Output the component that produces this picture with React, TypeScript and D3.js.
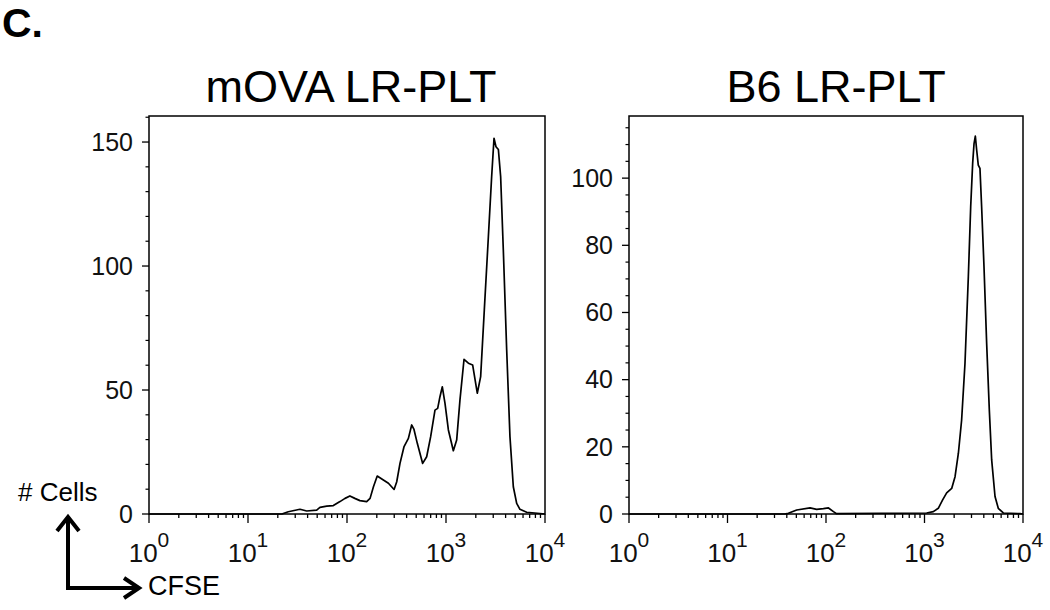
import React from 'react';
import * as d3 from 'd3';

// CFSE intensity (x) and # cells (y)
const movaCfse = [1, 22, 25.5, 33.5, 39.2, 49.4, 53.3, 62.4, 72.8, 84.9, 95.5, 107, 120, 135, 158, 171, 185, 202, 233, 262, 299, 318, 343, 377, 417, 450, 475, 513, 581, 638, 700, 774, 824, 869, 918, 977, 1057, 1186, 1282, 1384, 1521, 1683, 1858, 2070, 2239, 2438, 2679, 2891, 3055, 3199, 3381, 3565, 3793, 4102, 4426, 4786, 5176, 5585, 6531, 8892, 10000];
const movaCount = [0, 0, 0.9, 1.9, 1.2, 1.6, 2.7, 3.2, 3.4, 5.0, 6.3, 7.3, 6.3, 5.4, 5.0, 6.3, 11.0, 15.3, 13.7, 12.4, 9.9, 13.0, 20.4, 27.2, 30.5, 35.9, 34.1, 28.5, 20.4, 23.1, 31.2, 41.9, 42.6, 47.3, 51.3, 44.6, 33.9, 25.5, 29.8, 46.0, 62.4, 60.8, 60.1, 48.7, 55.4, 82.3, 111.8, 136.0, 151.5, 148.1, 147.0, 136.0, 106.5, 66.1, 31.2, 11.0, 4.3, 1.9, 0.7, 0.2, 0];

const b6Cfse = [1, 38, 41.5, 50.4, 68.9, 80.4, 94.0, 106, 119, 128, 1052, 1230, 1380, 1528, 1679, 1888, 2042, 2208, 2382, 2576, 2786, 2944, 3083, 3184, 3281, 3388, 3516, 3656, 3802, 4018, 4276, 4550, 4808, 5200, 5610, 6310, 9333, 10000];
const b6Count = [0, 0, 0.2, 1.2, 1.8, 1.4, 1.6, 1.8, 0.7, 0.1, 0.3, 0.7, 1.7, 4.2, 6.3, 7.6, 11.1, 18.1, 28.0, 44.8, 70.6, 91.5, 104.4, 110.3, 112.5, 108.3, 103.9, 102.9, 91.5, 73.6, 50.8, 31.0, 16.1, 5.2, 1.7, 0.3, 0.1, 0];

const panelTitles = ['mOVA LR-PLT', 'B6 LR-PLT'];
const movaYTicks = [0, 50, 100, 150];
const b6YTicks = [0, 20, 40, 60, 80, 100];
const decades = [0, 1, 2, 3, 4];

const FONT = '"Liberation Sans", Arial, Helvetica, sans-serif';
const TOP = 116;
const BOTTOM = 514;

type PanelProps = {
  title: string;
  left: number;
  right: number;
  yMax: number;
  yTicks: number[];
  minorStep: number;
  cfse: number[];
  count: number[];
  titleX: number;
};

const Panel = ({ title, left, right, yMax, yTicks, minorStep, cfse, count, titleX }: PanelProps) => {
  const x = d3.scaleLog().domain([1, 10000]).range([left, right]);
  const y = d3.scaleLinear().domain([0, yMax]).range([BOTTOM, TOP]);

  const line = d3.line<number>()
    .x(i => x(cfse[i]))
    .y(i => y(count[i]));
  const path = line(d3.range(cfse.length)) || '';

  const minorY = d3.range(0, yMax, minorStep).filter(v => !yTicks.includes(v));
  const xTicks = x.ticks();

  return (
    <g>
      <text x={titleX} y={102} textAnchor="middle" fontSize={45} fontFamily={FONT}>{title}</text>
      <rect x={left} y={TOP} width={right - left} height={BOTTOM - TOP}
        fill="none" stroke="#000" strokeWidth={1.5} />

      {/* y ticks */}
      {minorY.map(v => (
        <line key={'my' + v} x1={left - 3.5} x2={left} y1={y(v)} y2={y(v)} stroke="#000" strokeWidth={1.2} />
      ))}
      {yTicks.map(v => (
        <g key={'y' + v}>
          <line x1={left - 7} x2={left} y1={y(v)} y2={y(v)} stroke="#000" strokeWidth={1.3} />
          <text x={left - 16} y={y(v)} dy="0.35em" textAnchor="end" fontSize={25} fontFamily={FONT} fill="#111">{v}</text>
        </g>
      ))}

      {/* x ticks */}
      {xTicks.map((v, i) => {
        const major = Math.abs(Math.log10(v) - Math.round(Math.log10(v))) < 1e-9;
        return (
          <line key={'x' + i} x1={x(v)} x2={x(v)} y1={BOTTOM} y2={BOTTOM + (major ? 9 : 4)}
            stroke="#000" strokeWidth={1.3} />
        );
      })}
      {decades.map(p => (
        <text key={'xl' + p} x={x(Math.pow(10, p))} y={562} textAnchor="middle" fontFamily={FONT} fill="#111">
          <tspan fontSize={26}>10</tspan>
          <tspan fontSize={21} dy={-15}>{p}</tspan>
        </text>
      ))}

      <path d={path} fill="none" stroke="#000" strokeWidth={1.7} strokeLinejoin="round" />
    </g>
  );
};

export default function App() {
  return (
    <svg width={1050} height={610} style={{ position: 'absolute', left: 0, top: 0, background: '#fff' }}>
      <text x={2} y={37} fontSize={41} fontWeight="bold" fontFamily={FONT}>C.</text>

      <Panel title={panelTitles[0]} left={149} right={545} yMax={160.5} yTicks={movaYTicks}
        minorStep={10} cfse={movaCfse} count={movaCount} titleX={351} />
      <Panel title={panelTitles[1]} left={629} right={1023} yMax={118.5} yTicks={b6YTicks}
        minorStep={5} cfse={b6Cfse} count={b6Count} titleX={836} />

      {/* axis orientation key */}
      <text x={18} y={501} fontSize={26} fontFamily={FONT}># Cells</text>
      <path d="M68,517 L68,588 L137,588" fill="none" stroke="#000" strokeWidth={4} strokeLinejoin="miter" />
      <path d="M57,531 L68,517 L79,531" fill="none" stroke="#000" strokeWidth={4} />
      <path d="M124,578 L139,588 L124,598" fill="none" stroke="#000" strokeWidth={4} />
      <text x={148} y={595} fontSize={27} fontFamily={FONT}>CFSE</text>
    </svg>
  );
}
